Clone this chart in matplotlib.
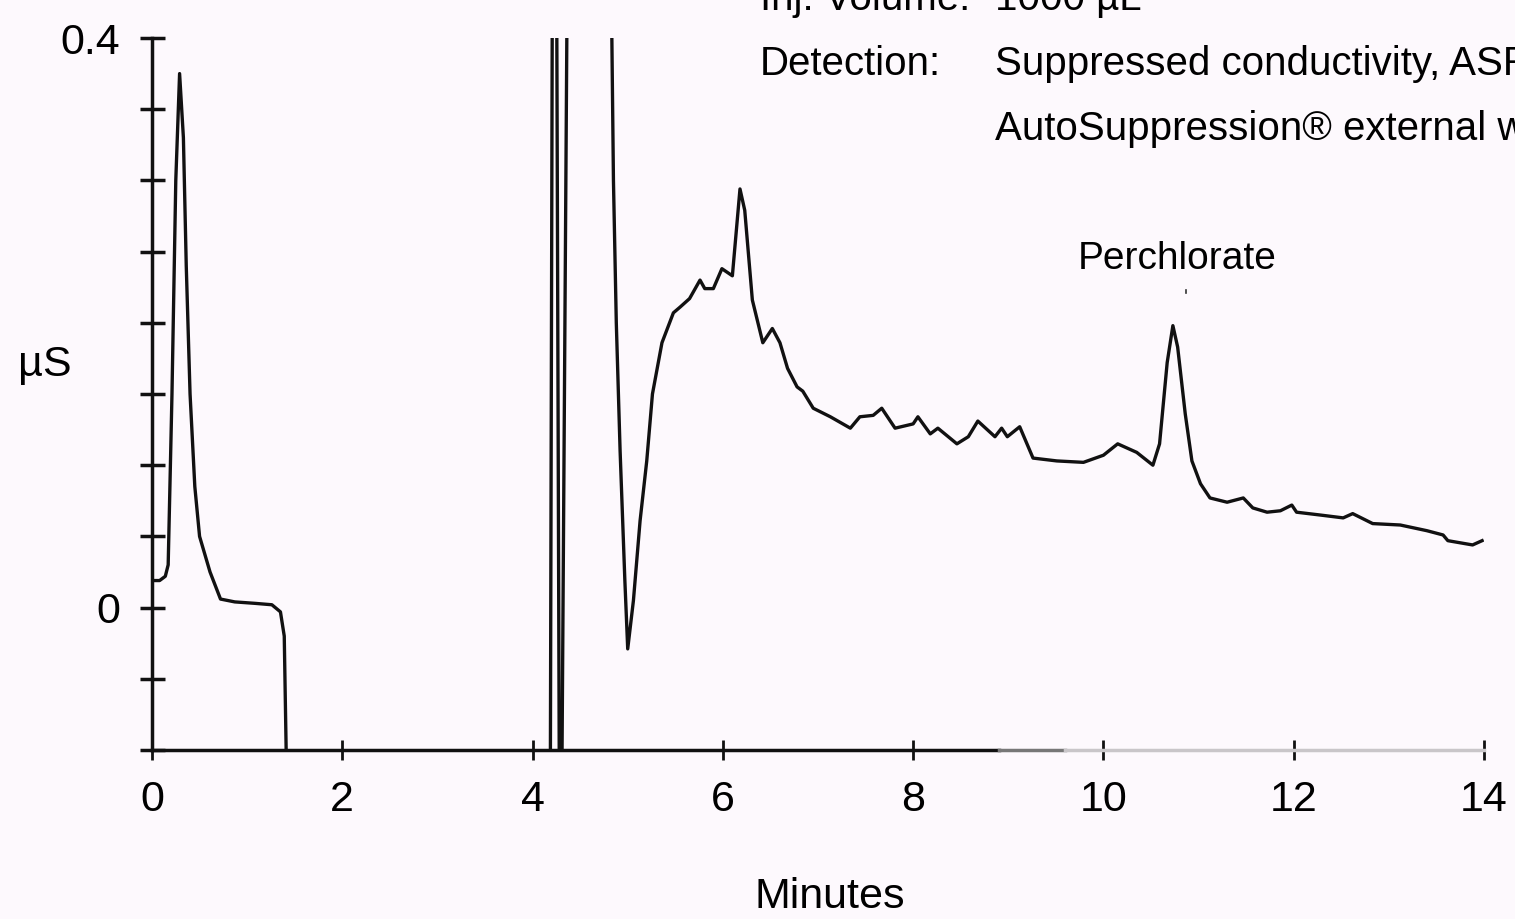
import numpy as np
import matplotlib
matplotlib.use("Agg")
import matplotlib.pyplot as plt
from matplotlib import font_manager

# ---- data ----
time_min = [0.00, 0.08, 0.14, 0.17, 0.21, 0.25, 0.29, 0.33, 0.36, 0.40, 0.45, 0.50, 0.61, 0.72,
            0.87, 1.08, 1.26, 1.35, 1.39, 1.41, 1.43,
            4.18, 4.21, 4.25, 4.29, 4.38, 4.80, 4.85, 4.88, 4.92, 4.97, 5.00, 5.06, 5.13, 5.20,
            5.26, 5.36, 5.48, 5.55, 5.65, 5.76, 5.81, 5.90, 5.99, 6.10, 6.18, 6.23, 6.31,
            6.42, 6.52, 6.60, 6.68, 6.78, 6.84, 6.95, 7.13, 7.34, 7.44, 7.58, 7.67, 7.81,
            8.00, 8.05, 8.18, 8.26, 8.46, 8.58, 8.68, 8.86, 8.93, 8.99, 9.12, 9.26, 9.51,
            9.79, 10.00, 10.15, 10.35, 10.52, 10.59, 10.67, 10.73, 10.78, 10.86, 10.93,
            11.02, 11.12, 11.30, 11.47, 11.57, 11.72, 11.86, 11.98, 12.03, 12.28, 12.52,
            12.62, 12.83, 13.12, 13.40, 13.57, 13.62, 13.88, 13.98]
signal_uS = [0.019, 0.019, 0.022, 0.030, 0.150, 0.300, 0.375, 0.330, 0.240, 0.150, 0.085, 0.050,
             0.025, 0.006, 0.004, 0.003, 0.002, -0.003, -0.020, -0.100, -0.300,
             -0.300, 0.500, 0.500, -0.300, 0.600, 0.600, 0.300, 0.200, 0.110, 0.019, -0.029, 0.005,
             0.061, 0.103, 0.150, 0.186, 0.207, 0.211, 0.217, 0.230, 0.224, 0.224, 0.238,
             0.233, 0.294, 0.279, 0.216, 0.186, 0.196, 0.186, 0.168, 0.155, 0.152, 0.140,
             0.134, 0.126, 0.134, 0.135, 0.140, 0.126, 0.129, 0.134, 0.122, 0.126, 0.115,
             0.120, 0.131, 0.120, 0.126, 0.120, 0.127, 0.105, 0.103, 0.102, 0.107, 0.115,
             0.109, 0.100, 0.115, 0.172, 0.198, 0.183, 0.136, 0.103, 0.087, 0.077, 0.074,
             0.077, 0.070, 0.067, 0.068, 0.072, 0.067, 0.065, 0.063, 0.066, 0.059, 0.058,
             0.054, 0.051, 0.047, 0.044, 0.047]

x_ticks = [0, 2, 4, 6, 8, 10, 12, 14]
y_ticks = [-0.1, -0.05, 0.0, 0.05, 0.1, 0.15, 0.2, 0.25, 0.3, 0.35, 0.4]
y_labelled = {0.0: "0", 0.4: "0.4"}

peak_name = "Perchlorate"
peak_time = 10.78

header_lines = [("Inj. Volume:", "1000 µL"),
                ("Detection:", "Suppressed conductivity, ASRS ULTRA, 4 mm,"),
                ("", "AutoSuppression® external water mode")]

# ---- fonts ----
names = {f.name for f in font_manager.fontManager.ttflist}
if "Liberation Sans Narrow" in names:
    FAM = ["Liberation Sans Narrow", "DejaVu Sans"]
    FS, FSH = 35, 35
else:
    FAM = ["Liberation Sans", "DejaVu Sans"]
    FS, FSH = 31, 29
plt.rcParams["font.family"] = FAM

BG = "#fdf9fd"
fig = plt.figure(figsize=(15.15, 9.19), dpi=100, facecolor=BG)
ax = fig.add_axes([152 / 1515, 1 - 750 / 919, (1484 - 152) / 1515, (750 - 38) / 919])
ax.set_facecolor(BG)

ax.plot(time_min, signal_uS, color="#111111", lw=2.4, solid_joinstyle="round")

ax.set_xlim(0, 14)
ax.set_ylim(-0.1, 0.4)

for s in ["top", "right", "bottom"]:
    ax.spines[s].set_visible(False)
ax.spines["left"].set_linewidth(2.5)
ax.spines["left"].set_color("#111111")

# bottom axis line: dark on the left, fading to gray on the right
ax.plot([0, 8.9], [-0.1, -0.1], color="#111111", lw=2.5, clip_on=False, zorder=3)
ax.plot([8.9, 9.6], [-0.1, -0.1], color="#777777", lw=2.5, clip_on=False, zorder=3)
ax.plot([9.6, 14], [-0.1, -0.1], color="#c9c6c9", lw=2.5, clip_on=False, zorder=3)

ax.set_xticks(x_ticks)
ax.set_xticklabels([str(t) for t in x_ticks])
ax.set_yticks(y_ticks)
ax.set_yticklabels([y_labelled.get(round(t, 2), "") for t in y_ticks])

ax.tick_params(axis="y", direction="inout", length=18, width=2.5, color="#111111",
               labelsize=FS, pad=14)
ax.tick_params(axis="x", direction="inout", length=15, width=2.0, color="#111111",
               labelsize=FS, pad=14)

# axis titles
fig.text(18 / 1515, 1 - 365 / 919, "µS", fontsize=FS, ha="left", va="center")
fig.text(830 / 1515, 1 - 897 / 919, "Minutes", fontsize=FS, ha="center", va="center")

# peak label
ax.text(peak_time, 0.245, peak_name, fontsize=FS - 3, ha="center", va="center")
ax.plot([peak_time + 0.09, peak_time + 0.09], [0.221, 0.223], color="#333333", lw=1.2)

# header text (partly cut off at the figure edges, as in the reference)
for i, (lab, val) in enumerate(header_lines):
    ybase = 1 - (10 + 65 * i) / 919
    if lab:
        fig.text(760 / 1515, ybase, lab, fontsize=FSH, ha="left", va="baseline")
    fig.text(995 / 1515, ybase, val, fontsize=FSH, ha="left", va="baseline")

fig.savefig("out.png", dpi=100, facecolor=BG)
